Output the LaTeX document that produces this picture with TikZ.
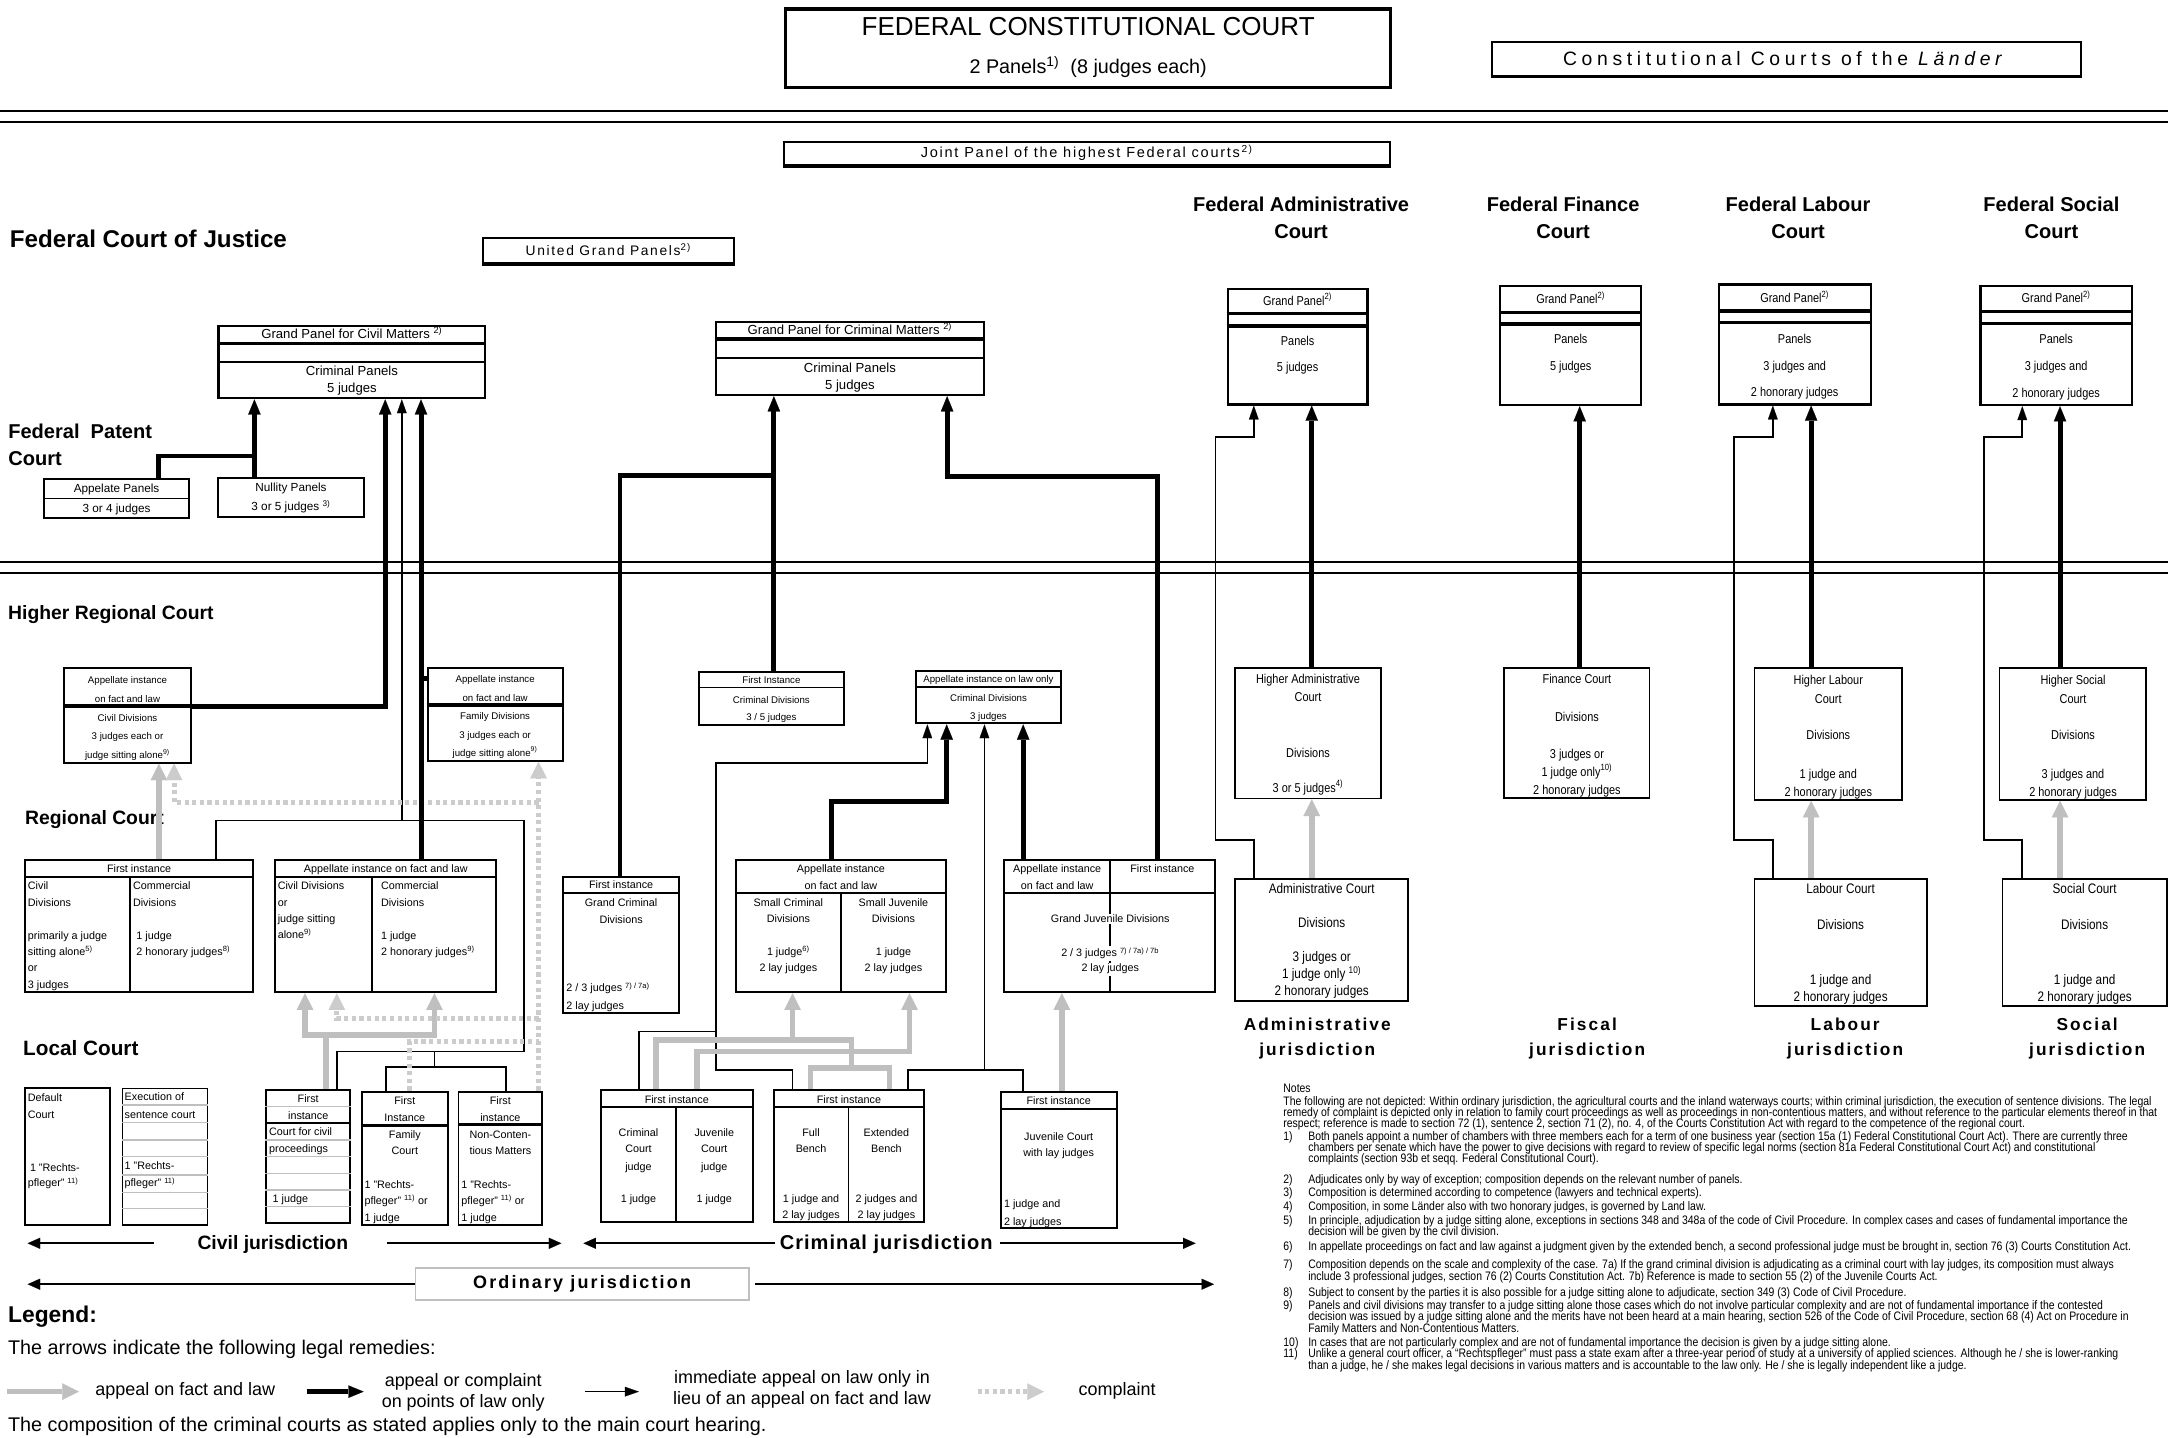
\documentclass[tikz,border=0pt]{standalone}
\usepackage{fontspec}
\setmainfont{Liberation Sans}
\newfontfamily\narrow{Liberation Sans}[FakeStretch=0.85]
\newfontfamily\spaced{Liberation Sans}[LetterSpace=12]
\newfontfamily\spacedS{Liberation Sans}[LetterSpace=5]
\newfontfamily\spacedL{Liberation Sans}[LetterSpace=24]
\usetikzlibrary{arrows.meta,fit}
\newcommand\fs[1]{\fontsize{#1}{#1}\selectfont}
\newcounter{tn}
\newcommand\T[4][]{\stepcounter{tn}\node[tx,#1] (t\arabic{tn}) at (#2,#3) {#4};}
\newcommand\B[6][]{\node[box,#1,fit={(#3,#4) (#5,#6)}] (#2) {};}
\newcommand\HL[3][]{\draw[line width=1.3pt,#1] (#2.west |- 0,#3) -- (#2.east |- 0,#3);}
\begin{document}
\begin{tikzpicture}[x=1pt,y=-1pt,
 tx/.style={inner sep=0pt,anchor=mid,font=\fs{7.8}},
 box/.style={draw,line width=1.4pt,inner sep=0pt,minimum size=0pt},
 thk/.style={line width=3.6pt},
 thn/.style={line width=1.2pt},
 gry/.style={line width=4pt,draw=gray!50},
 dotl/.style={line width=3.6pt,draw=gray!40,dash pattern=on 3pt off 2.5pt},
 thkarr/.style={thk,-{Triangle[length=11pt,width=9pt,line width=0.1pt]}},
 thnarr/.style={thn,-{Triangle[length=10pt,width=7pt,line width=0.1pt]}},
 gryarr/.style={gry,-{Triangle[length=12pt,width=12pt,line width=0.1pt]}},
 dotarr/.style={dotl,-{Triangle[length=12pt,width=12pt,line width=0.1pt]}},
 jarr/.style={line width=1.3pt,-{Triangle[length=9pt,width=8pt,line width=0.1pt]}},
 hd/.style={font=\bfseries\fs{14}},
 f7/.style={font=\fs{7}},
 f9/.style={font=\fs{9.5}},
 n9/.style={font=\narrow\fs{9.3}},
 n10/.style={font=\narrow\fs{10}},
 jl/.style={font=\spaced\bfseries\fs{12.5}},
 nt/.style={anchor=mid west,font=\narrow\fs{8.9}},
 L/.style={anchor=mid west},
 wb/.style={fill=white,inner sep=1pt}
]
\useasboundingbox (0,0) rectangle (1568,1040);
\fill[white] (0,0) rectangle (1568,1040);

% ---------- horizontal rules
\draw[line width=1.5pt] (0,80.3) -- (1568,80.3);
\draw[line width=1.5pt] (0,88) -- (1568,88);
\draw[line width=1.5pt] (0,406.7) -- (1568,406.7);
\draw[line width=1.5pt] (0,414.2) -- (1568,414.2);

% ---------- top
\B[line width=2.2pt]{fcc}{568}{6.5}{1006}{63.4}
\T[font=\fs{18.8}]{787}{23}{FEDERAL CONSTITUTIONAL COURT}
\T[font=\fs{14.3}]{787}{50.5}{2 Panels\textsuperscript{1)}\ \ (8 judges each)}
\B[line width=1.9pt]{lae}{1079}{30.5}{1505}{55.5}
\T[font=\spacedL\fs{14}]{1291}{45}{Constitutional Courts of the \textit{Länder}}
\B{jp}{567}{103}{1005}{119.5}
\draw[line width=3pt] (jp.south west) -- (jp.south east);
\T[font=\spaced\fs{10.5}]{786}{111.5}{Joint Panel of the highest Federal courts\textsuperscript{\,2)}}

% ---------- Federal Court of Justice
\T[L,font=\bfseries\fs{17.5}]{7}{176.5}{Federal Court of Justice}
\B{ugp}{349}{172}{531}{190.5}
\draw[line width=2.6pt] (ugp.south west) -- (ugp.south east);
\T[font=\spaced\fs{10}]{440}{182}{United Grand Panels\textsuperscript{2)}}
\B[line width=1.6pt]{cgp}{158}{235.5}{351}{288}
\HL[line width=2.6pt]{cgp}{248.3} \HL{cgp}{261.6}
\T[f9]{254.5}{242.5}{Grand Panel for Civil Matters \textsuperscript{2)}}
\T[f9]{254.5}{268.8}{Criminal Panels}
\T[f9]{254.5}{281.5}{5 judges}
\B[line width=1.6pt]{kgp}{518}{232.7}{711.4}{285.7}
\HL[line width=2.6pt]{kgp}{245.2} \HL{kgp}{259.2}
\T[f9]{614.7}{239.5}{Grand Panel for Criminal Matters \textsuperscript{2)}}
\T[f9]{614.7}{266.5}{Criminal Panels}
\T[f9]{614.7}{279}{5 judges}

% ---------- other federal courts
\T[font=\bfseries\fs{14.5}]{941}{150}{Federal Administrative}
\T[font=\bfseries\fs{14.5}]{941}{170}{Court}
\T[font=\bfseries\fs{14.5}]{1130.5}{150}{Federal Finance}
\T[font=\bfseries\fs{14.5}]{1130.5}{170}{Court}
\T[font=\bfseries\fs{14.5}]{1300.4}{150}{Federal Labour}
\T[font=\bfseries\fs{14.5}]{1300.4}{170}{Court}
\T[font=\bfseries\fs{14.5}]{1483.7}{150}{Federal Social}
\T[font=\bfseries\fs{14.5}]{1483.7}{170}{Court}

\B[line width=1.6pt]{agp}{888}{209}{989}{292.5}
\HL[line width=2.4pt]{agp}{226.6} \HL[line width=2.4pt]{agp}{235.8}
\T[n9]{938.5}{218}{Grand Panel\textsuperscript{2)}}
\T[n9]{938.5}{246.9}{Panels}
\T[n9]{938.5}{265.7}{5 judges}
\B[line width=1.6pt]{fgp}{1085}{206.6}{1187}{293}
\HL[line width=2.4pt]{fgp}{226} \HL[line width=2.4pt]{fgp}{234.3}
\T[n9]{1136}{216.8}{Grand Panel\textsuperscript{2)}}
\T[n9]{1136}{245.5}{Panels}
\T[n9]{1136}{265}{5 judges}
\B[line width=1.6pt]{lgp}{1243}{205.7}{1353}{292.5}
\HL[line width=2.4pt]{lgp}{225} \HL[line width=2.4pt]{lgp}{233.4}
\T[n9]{1298}{216}{Grand Panel\textsuperscript{2)}}
\T[n9]{1298}{245.7}{Panels}
\T[n9]{1298}{265}{3 judges and}
\T[n9]{1298}{284.3}{2 honorary judges}
\B[line width=1.6pt]{sgp}{1432.4}{206.6}{1541.8}{293}
\HL[line width=2.4pt]{sgp}{225.5} \HL[line width=2.4pt]{sgp}{234}
\T[n9]{1487.1}{216.5}{Grand Panel\textsuperscript{2)}}
\T[n9]{1487.1}{246}{Panels}
\T[n9]{1487.1}{265.5}{3 judges and}
\T[n9]{1487.1}{284.5}{2 honorary judges}

% ---------- Federal Patent Court
\T[L,font=\bfseries\fs{14.5}]{5.8}{314.5}{Federal\ \ Patent}
\T[L,font=\bfseries\fs{14.5}]{5.8}{334}{Court}
\B{app}{31.6}{346.2}{137}{374.4}
\HL{app}{360.5}
\T[font=\fs{8.5}]{84.3}{353.8}{Appelate Panels}
\T[font=\fs{8.5}]{84.3}{368}{3 or 4 judges}
\B{nul}{157.6}{345.5}{263.5}{374}
\T[font=\fs{8.5}]{210.5}{353}{Nullity Panels}
\T[font=\fs{8.5}]{210.5}{366.5}{3 or 5 judges \textsuperscript{3)}}

% ---------- Higher Regional Court level
\T[L,hd]{5.7}{445.5}{Higher Regional Court}
\B{olgc}{46.2}{483}{138.2}{551.6}
\HL[line width=2.6pt]{olgc}{510.7}
\T[f7]{92.2}{491.9}{Appellate instance}
\T[f7]{92.2}{505.6}{on fact and law}
\T[f7]{92.2}{519.1}{Civil Divisions}
\T[f7]{92.2}{532.4}{3 judges each or}
\T[f7]{92.2}{546.1}{judge sitting alone\textsuperscript{9)}}
\B{olgf}{309.3}{483}{406.9}{550.2}
\HL[line width=2.6pt]{olgf}{510}
\T[f7]{358.1}{491}{Appellate instance}
\T[f7]{358.1}{504.5}{on fact and law}
\T[f7]{358.1}{517.9}{Family Divisions}
\T[f7]{358.1}{531.2}{3 judges each or}
\T[f7]{358.1}{544.2}{judge sitting alone\textsuperscript{9)}}
\B{olgka}{505.4}{485.8}{610.4}{524.4}
\HL{olgka}{497.3}
\T[f7]{557.9}{491.5}{First Instance}
\T[f7]{557.9}{505.8}{Criminal Divisions}
\T[f7]{557.9}{518.3}{3 / 5 judges}
\B{olgkb}{662.4}{485.1}{767.4}{523.2}
\HL{olgkb}{496.6}
\T[f7]{714.9}{491}{Appellate instance on law only}
\T[f7]{714.9}{505}{Criminal Divisions}
\T[f7]{714.9}{518}{3 judges}

\B{ovg}{893.3}{483}{998.7}{577.5}
\T[n9]{946}{491.4}{Higher Administrative}
\T[n9]{946}{504.4}{Court}
\T[n9]{946}{544.9}{Divisions}
\T[n9]{946}{570.2}{3 or 5 judges\textsuperscript{4)}}
\B{fg}{1088}{483}{1193}{577}
\T[n9]{1140.5}{491.9}{Finance Court}
\T[n9]{1140.5}{518.9}{Divisions}
\T[n9]{1140.5}{545.6}{3 judges or}
\T[n9]{1140.5}{558.6}{1 judge only\textsuperscript{10)}}
\T[n9]{1140.5}{571.9}{2 honorary judges}
\B{lag}{1268.9}{483}{1375.6}{578.5}
\T[n9]{1322.3}{492.3}{Higher Labour}
\T[n9]{1322.3}{505.8}{Court}
\T[n9]{1322.3}{532.4}{Divisions}
\T[n9]{1322.3}{560.1}{1 judge and}
\T[n9]{1322.3}{573.1}{2 honorary judges}
\B{lsg}{1446.1}{483}{1552.4}{578.5}
\T[n9]{1499.3}{492.3}{Higher Social}
\T[n9]{1499.3}{505.8}{Court}
\T[n9]{1499.3}{532.4}{Divisions}
\T[n9]{1499.3}{560.1}{3 judges and}
\T[n9]{1499.3}{573.1}{2 honorary judges}

% ---------- Regional Court level
\T[L,hd]{18}{593.5}{Regional Court}
\B{lga}{18}{622}{183.2}{717.7}
\HL{lga}{634}
\draw[line width=1.3pt] (94.1,634) -- (94.1,717.7);
\T{100.6}{628.7}{First instance}
\T[L]{20}{640.8}{Civil}
\T[L]{20}{653.3}{Divisions}
\T[L]{20}{676.9}{primarily a judge}
\T[L]{20}{688.7}{sitting alone\textsuperscript{5)}}
\T[L]{20}{700.3}{or}
\T[L]{20}{712.4}{3 judges}
\T[L]{96}{640.8}{Commercial}
\T[L]{96}{653.3}{Divisions}
\T[L]{98.5}{676.9}{1 judge}
\T[L]{98.5}{688.7}{2 honorary judges\textsuperscript{8)}}
\B{lgb}{198.7}{622}{359}{717.7}
\HL{lgb}{634}
\draw[line width=1.3pt] (269,634) -- (269,717.7);
\T{279}{628.7}{Appellate instance on fact and law}
\T[L]{200.7}{640.8}{Civil Divisions}
\T[L]{200.7}{653.3}{or}
\T[L]{200.7}{664.9}{judge sitting}
\T[L]{200.7}{676.2}{alone\textsuperscript{9)}}
\T[L]{275.4}{640.8}{Commercial}
\T[L]{275.4}{653.3}{Divisions}
\T[L]{275.4}{676.9}{1 judge}
\T[L]{275.4}{688.7}{2 honorary judges\textsuperscript{9)}}

\B{lgka}{407.5}{634}{491}{732.4}
\HL{lgka}{646.1}
\T{449.2}{640}{First instance}
\T{449.2}{653.3}{Grand Criminal}
\T{449.2}{665.4}{Divisions}
\T[L]{409.5}{714.8}{2 / 3 judges \textsuperscript{7) / 7a)}}
\T[L]{409.5}{727.3}{2 lay judges}
\B{lgkb}{532.1}{622}{684.3}{717.7}
\HL{lgkb}{646.1}
\draw[line width=1.3pt] (608.2,646.1) -- (608.2,717.7);
\T{608.2}{628.7}{Appellate instance}
\T{608.2}{640.8}{on fact and law}
\T{570.2}{653.3}{Small Criminal}
\T{570.2}{664.9}{Divisions}
\T{570.2}{688.7}{1 judge\textsuperscript{6)}}
\T{570.2}{700.3}{2 lay judges}
\T{646.2}{653.3}{Small Juvenile}
\T{646.2}{664.9}{Divisions}
\T{646.2}{688.7}{1 judge}
\T{646.2}{700.3}{2 lay judges}
\B{lgkc}{726.3}{622}{878.5}{717.7}
\HL{lgkc}{646.1}
\draw[line width=1.3pt] (803,622) -- (803,717.7);
\T{764.6}{628.7}{Appellate instance}
\T{764.6}{640.8}{on fact and law}
\T{840.7}{628.7}{First instance}
\T[wb]{803}{664.9}{Grand Juvenile Divisions}
\T[wb]{803}{689.5}{2 / 3 judges \textsuperscript{7) / 7a) / 7b}}
\T[wb]{803}{700.3}{2 lay judges}

\B{vg}{893.3}{635.7}{1018.4}{723.7}
\T[n10]{955.9}{643.7}{Administrative Court}
\T[n10]{955.9}{668.3}{Divisions}
\T[n10]{955.9}{693.1}{3 judges or}
\T[n10]{955.9}{705.1}{1 judge only \textsuperscript{10)}}
\T[n10]{955.9}{717.4}{2 honorary judges}
\B{ag}{1268.9}{635.7}{1393.4}{727.6}
\T[n10]{1331.2}{643.7}{Labour Court}
\T[n10]{1331.2}{669.5}{Divisions}
\T[n10]{1331.2}{709.2}{1 judge and}
\T[n10]{1331.2}{722}{2 honorary judges}
\B{sg}{1448.3}{635.7}{1567}{727.6}
\T[n10]{1507.7}{643.7}{Social Court}
\T[n10]{1507.7}{669.5}{Divisions}
\T[n10]{1507.7}{709.2}{1 judge and}
\T[n10]{1507.7}{722}{2 honorary judges}

\T[jl]{952.7}{742.5}{Administrative}
\T[jl]{952.7}{760.8}{jurisdiction}
\T[jl]{1147.9}{742.5}{Fiscal}
\T[jl]{1147.9}{760.8}{jurisdiction}
\T[jl]{1334.5}{742.5}{Labour}
\T[jl]{1334.5}{760.8}{jurisdiction}
\T[jl]{1509.5}{742.5}{Social}
\T[jl]{1509.5}{760.8}{jurisdiction}

% ---------- Local Court level
\T[L,font=\bfseries\fs{15}]{16.6}{761}{Local Court}
\B{dc}{18}{787.1}{79.7}{886}
\T[L]{20}{793.9}{Default}
\T[L]{20}{806.4}{Court}
\T[L]{21.5}{844.3}{1 "Rechts-}
\T[L]{20}{855.8}{pfleger" \textsuperscript{11)}}
\B[line width=1.1pt]{ec}{88.6}{787.1}{150}{886}
\foreach \yy in {799.2,811.7,824.5,836.5,849.8,862.3,873.9}{\HL[draw=gray!50,line width=1pt]{ec}{\yy}}
\T[L]{90}{793.1}{Execution of}
\T[L]{90}{806.4}{sentence court}
\T[L]{90}{843.3}{1 "Rechts-}
\T[L]{90}{855.8}{pfleger" \textsuperscript{11)}}
\B{cp}{192.4}{788.3}{253.3}{884.8}
\foreach \yy in {800.4,824.5,836.6,848.6,860.7,872.7}{\HL[draw=gray!50,line width=1pt]{cp}{\yy}}
\HL{cp}{812.4}
\T{222.9}{794.8}{First}
\T{222.9}{807.1}{instance}
\T[L]{194.5}{818.9}{Court for civil}
\T[L]{194.5}{831}{proceedings}
\T[L]{197}{867.4}{1 judge}
\B{fam}{261.6}{789.5}{323.9}{886}
\HL[line width=2.2pt]{fam}{814.1}
\T{292.8}{796.3}{First}
\T{292.8}{808.8}{Instance}
\T{292.8}{821.1}{Family}
\T{292.8}{832.4}{Court}
\T[L]{263.5}{857}{1 "Rechts-}
\T[L]{263.5}{868.4}{pfleger" \textsuperscript{11)} or}
\T[L]{263.5}{880.7}{1 judge}
\B{nc}{331.6}{789.5}{392.2}{886}
\HL[line width=2.2pt]{nc}{813.2}
\T{361.9}{796.3}{First}
\T{361.9}{808.8}{instance}
\T{361.9}{821.1}{Non-Conten-}
\T{361.9}{832.4}{tious Matters}
\T[L]{333.5}{857}{1 "Rechts-}
\T[L]{333.5}{868.4}{pfleger" \textsuperscript{11)} or}
\T[L]{333.5}{880.7}{1 judge}

\B{aka}{434.7}{788.3}{544.3}{883.5}
\HL{aka}{800.4}
\draw[line width=1.3pt] (488.9,800.4) -- (488.9,883.5);
\T{489.5}{795.1}{First instance}
\T{461.8}{819.2}{Criminal}
\T{461.8}{831.2}{Court}
\T{461.8}{843.8}{judge}
\T{461.8}{867.4}{1 judge}
\T{516.6}{819.2}{Juvenile}
\T{516.6}{831.2}{Court}
\T{516.6}{843.8}{judge}
\T{516.6}{867.4}{1 judge}
\B{akb}{559.5}{788.3}{668.5}{883.5}
\HL{akb}{800.4}
\draw[line width=1.3pt] (613.7,800.4) -- (613.7,883.5);
\T{614}{795.1}{First instance}
\T{586.6}{819.2}{Full}
\T{586.6}{831.2}{Bench}
\T{586.6}{867.4}{1 judge and}
\T{586.6}{878.7}{2 lay judges}
\T{641.1}{819.2}{Extended}
\T{641.1}{831.2}{Bench}
\T{641.1}{867.4}{2 judges and}
\T{641.1}{878.7}{2 lay judges}
\B{akc}{723.9}{789.5}{807.6}{888.4}
\HL{akc}{802.3}
\T{765.7}{796.3}{First instance}
\T{765.7}{822.1}{Juvenile Court}
\T{765.7}{834.1}{with lay judges}
\T[L]{726}{871}{1 judge and}
\T[L]{726}{883.6}{2 lay judges}

% ---------- connectors: patent & civil
\draw[thk] (114.6,0 |- app.north) -- (114.6,329.8) -- (184,329.8);
\draw[thkarr] (184,0 |- nul.north) -- (184,0 |- cgp.south);
\draw[thkarr] (olgc.east |- 0,511) -- (278.6,511) -- (278.6,0 |- cgp.south);
\draw[thn] (156.4,0 |- lga.north) |- (379.2,593.5) -- (379.2,760.6) -| (243.6,0 |- cp.north);
\draw[thnarr] (290.6,593.5) -- (290.6,0 |- cgp.south);
\draw[thn] (314.2,760.6) -- (314.2,771.5);
\draw[thn] (279,0 |- fam.north) |- (366,771.5) -- (366,0 |- nc.north);
\draw[gryarr] (114.9,0 |- lga.north) -- (114.9,0 |- olgc.south);
\draw[gryarr] (235.8,0 |- cp.north) |- (220.6,748.5) -- (220.6,0 |- lgb.south);
\draw[gryarr] (235.8,748.5) -| (314.2,0 |- lgb.south);
\draw[dotarr] (389.5,0 |- nc.north) -- (389.5,0 |- olgf.south);
\draw[dotarr] (389.5,580.5) -| (125.9,0 |- olgc.south);
\draw[dotarr] (389.5,736.5) -| (243.6,0 |- lgb.south);
\draw[dotl] (296.2,0 |- fam.north) |- (389.5,753.4);
\draw[thkarr] (304.5,0 |- lgb.north) -- (304.5,0 |- cgp.south);
\draw[thk] (304.5,490.6) -- (olgf.west |- 0,490.6);

% ---------- connectors: criminal
\draw[thkarr] (559.7,0 |- olgka.north) -- (559.7,0 |- kgp.south);
\draw[thk] (448.4,0 |- lgka.north) |- (559.7,343.6);
\draw[thkarr] (837.2,0 |- lgkc.north) |- (685,344.3) -- (685,0 |- kgp.south);
\draw[thn] (462.1,0 |- aka.north) |- (517.8,746.1);
\draw[thnarr] (573.2,0 |- akb.north) |- (517.8,773.9) |- (670.7,552) -- (670.7,0 |- olgkb.south);
\draw[thn] (656.9,0 |- akb.north) |- (740,773.9) -- (740,0 |- akc.north);
\draw[thnarr] (712,773.9) -- (712,0 |- olgkb.south);
\draw[gryarr] (474.3,0 |- aka.north) |- (573.2,752.1) -- (573.2,0 |- lgkb.south);
\draw[gry] (573.2,752.1) -- (615.8,752.1) -- (615.8,772.6);
\draw[gry] (586.3,0 |- akb.north) |- (643.2,772.6) -- (643.2,0 |- akb.north);
\draw[gryarr] (504.1,0 |- aka.north) |- (657.8,760.6) -- (657.8,0 |- lgkb.south);
\draw[gryarr] (768,0 |- akc.north) -- (768,0 |- lgkc.south);
\draw[thkarr] (601.2,0 |- lgkb.north) |- (684.7,580) -- (684.7,0 |- olgkb.south);
\draw[thkarr] (740,0 |- lgkc.north) -- (740,0 |- olgkb.south);

% ---------- connectors: specialised jurisdictions
\draw[thkarr] (948.7,0 |- ovg.north) -- (948.7,0 |- agp.south);
\draw[thnarr] (906.8,0 |- vg.north) |- (879,607.5) |- (906.8,316) -- (906.8,0 |- agp.south);
\draw[gryarr] (948.7,0 |- vg.north) -- (948.7,0 |- ovg.south);
\draw[thkarr] (1142.5,0 |- fg.north) -- (1142.5,0 |- fgp.south);
\draw[thkarr] (1309.9,0 |- lag.north) -- (1309.9,0 |- lgp.south);
\draw[thnarr] (1282.2,0 |- ag.north) |- (1254.1,607.5) |- (1282.2,316) -- (1282.2,0 |- lgp.south);
\draw[gryarr] (1309.9,0 |- ag.north) -- (1309.9,0 |- lag.south);
\draw[thkarr] (1489.9,0 |- lsg.north) -- (1489.9,0 |- sgp.south);
\draw[thnarr] (1462.6,0 |- sg.north) |- (1435,607.5) |- (1462.6,316) -- (1462.6,0 |- sgp.south);
\draw[gryarr] (1489.9,0 |- sg.north) -- (1489.9,0 |- lsg.south);

% ---------- jurisdiction bands
\node[font=\bfseries\fs{14}] (civj) at (197.3,900) {Civil jurisdiction};
\coordinate (cja) at (111.5,899.2); \coordinate (cjb) at (20,899.2);
\coordinate (cjc) at (280.2,899.2); \coordinate (cjd) at (406,899.2);
\draw[jarr] (cja) -- (cjb); \draw[jarr] (cjc) -- (cjd);
\node[font=\spacedS\bfseries\fs{14.5}] (crj) at (641,900) {Criminal jurisdiction};
\coordinate (kja) at (560.5,899.2); \coordinate (kjb) at (422,899.2);
\coordinate (kjc) at (723.5,899.2); \coordinate (kjd) at (864.7,899.2);
\draw[jarr] (kja) -- (kjb); \draw[jarr] (kjc) -- (kjd);
\node[draw=gray!50,line width=1.4pt,inner sep=0pt,minimum width=241pt,minimum height=23pt,font=\spaced\bfseries\fs{13}] (ordj) at (421,928.8) {Ordinary jurisdiction};
\coordinate (oja) at (20,928.8); \coordinate (ojb) at (546,928.8); \coordinate (ojc) at (878,928.8);
\draw[jarr] (ordj.west) -- (oja); \draw[jarr] (ojb) -- (ojc);

% ---------- legend
\T[L,font=\bfseries\fs{16.5}]{5.7}{953.5}{Legend:}
\T[L,font=\fs{14.3}]{5.7}{977}{The arrows indicate the following legal remedies:}
\coordinate (la) at (5,1006.5); \coordinate (lb) at (57,1006.5);
\draw[gryarr] (la) -- (lb);
\T[font=\fs{13}]{134}{1006.5}{appeal on fact and law}
\coordinate (lc) at (222,1006.5); \coordinate (ld) at (263,1006.5);
\draw[thkarr] (lc) -- (ld);
\T[font=\fs{13}]{335}{1000}{appeal or complaint}
\T[font=\fs{13}]{335}{1015}{on points of law only}
\coordinate (le) at (423,1006.5); \coordinate (lf) at (462,1006.5);
\draw[thnarr] (le) -- (lf);
\T[font=\fs{13}]{580}{998}{immediate appeal on law only in}
\T[font=\fs{13}]{580}{1013}{lieu of an appeal on fact and law}
\coordinate (lg) at (707,1006.5); \coordinate (lh) at (755,1006.5);
\draw[dotarr] (lg) -- (lh);
\T[font=\fs{13}]{808}{1006.5}{complaint}
\T[L,font=\fs{14.3}]{5.7}{1032.5}{The composition of the criminal courts as stated applies only to the main court hearing.}

% ---------- notes
\T[nt]{928}{787.8}{Notes}
\T[nt]{928}{797}{The following are not depicted: Within ordinary jurisdiction, the agricultural courts and the inland waterways courts; within criminal jurisdiction, the execution of sentence divisions. The legal}
\T[nt]{928}{805}{remedy of complaint is depicted only in relation to family court proceedings as well as proceedings in non-contentious matters, and without reference to the particular elements thereof in that}
\T[nt]{928}{813}{respect; reference is made to section 72 (1), sentence 2, section 71 (2), no. 4, of the Courts Constitution Act with regard to the competence of the regional court.}
\T[nt]{928}{822.5}{1)}
\T[nt]{946}{822.5}{Both panels appoint a number of chambers with three members each for a term of one business year (section 15a (1) Federal Constitutional Court Act). There are currently three}
\T[nt]{946}{830.3}{chambers per senate which have the power to give decisions with regard to review of specific legal norms (section 81a Federal Constitutional Court Act) and constitutional}
\T[nt]{946}{838.2}{complaints (section 93b et seqq. Federal Constitutional Court).}
\T[nt]{928}{853.4}{2)}
\T[nt]{946}{853.4}{Adjudicates only by way of exception; composition depends on the relevant number of panels.}
\T[nt]{928}{863}{3)}
\T[nt]{946}{863}{Composition is determined according to competence (lawyers and technical experts).}
\T[nt]{928}{872.7}{4)}
\T[nt]{946}{872.7}{Composition, in some Länder also with two honorary judges, is governed by Land law.}
\T[nt]{928}{882.8}{5)}
\T[nt]{946}{882.8}{In principle, adjudication by a judge sitting alone, exceptions in sections 348 and 348a of the code of Civil Procedure. In complex cases and cases of fundamental importance the}
\T[nt]{946}{890.8}{decision will be given by the civil division.}
\T[nt]{928}{901.8}{6)}
\T[nt]{946}{901.8}{In appellate proceedings on fact and law against a judgment given by the extended bench, a second professional judge must be brought in, section 76 (3) Courts Constitution Act.}
\T[nt]{928}{914.8}{7)}
\T[nt]{946}{914.8}{Composition depends on the scale and complexity of the case. 7a) If the grand criminal division is adjudicating as a criminal court with lay judges, its composition must always}
\T[nt]{946}{923.3}{include 3 professional judges, section 76 (2) Courts Constitution Act. 7b) Reference is made to section 55 (2) of the Juvenile Courts Act.}
\T[nt]{928}{934.9}{8)}
\T[nt]{946}{934.9}{Subject to consent by the parties it is also possible for a judge sitting alone to adjudicate, section 349 (3) Code of Civil Procedure.}
\T[nt]{928}{944.5}{9)}
\T[nt]{946}{944.5}{Panels and civil divisions may transfer to a judge sitting alone those cases which do not involve particular complexity and are not of fundamental importance if the contested}
\T[nt]{946}{952.5}{decision was issued by a judge sitting alone and the merits have not been heard at a main hearing, section 526 of the Code of Civil Procedure, section 68 (4) Act on Procedure in}
\T[nt]{946}{960.9}{Family Matters and Non-Contentious Matters.}
\T[nt]{928}{971.5}{10)}
\T[nt]{946}{971.5}{In cases that are not particularly complex and are not of fundamental importance the decision is given by a judge sitting alone.}
\T[nt]{928}{979.5}{11)}
\T[nt]{946}{979.5}{Unlike a general court officer, a “Rechtspfleger” must pass a state exam after a three-year period of study at a university of applied sciences. Although he / she is lower-ranking}
\T[nt]{946}{987.7}{than a judge, he / she makes legal decisions in various matters and is accountable to the law only. He / she is legally independent like a judge.}
\end{tikzpicture}
\end{document}
